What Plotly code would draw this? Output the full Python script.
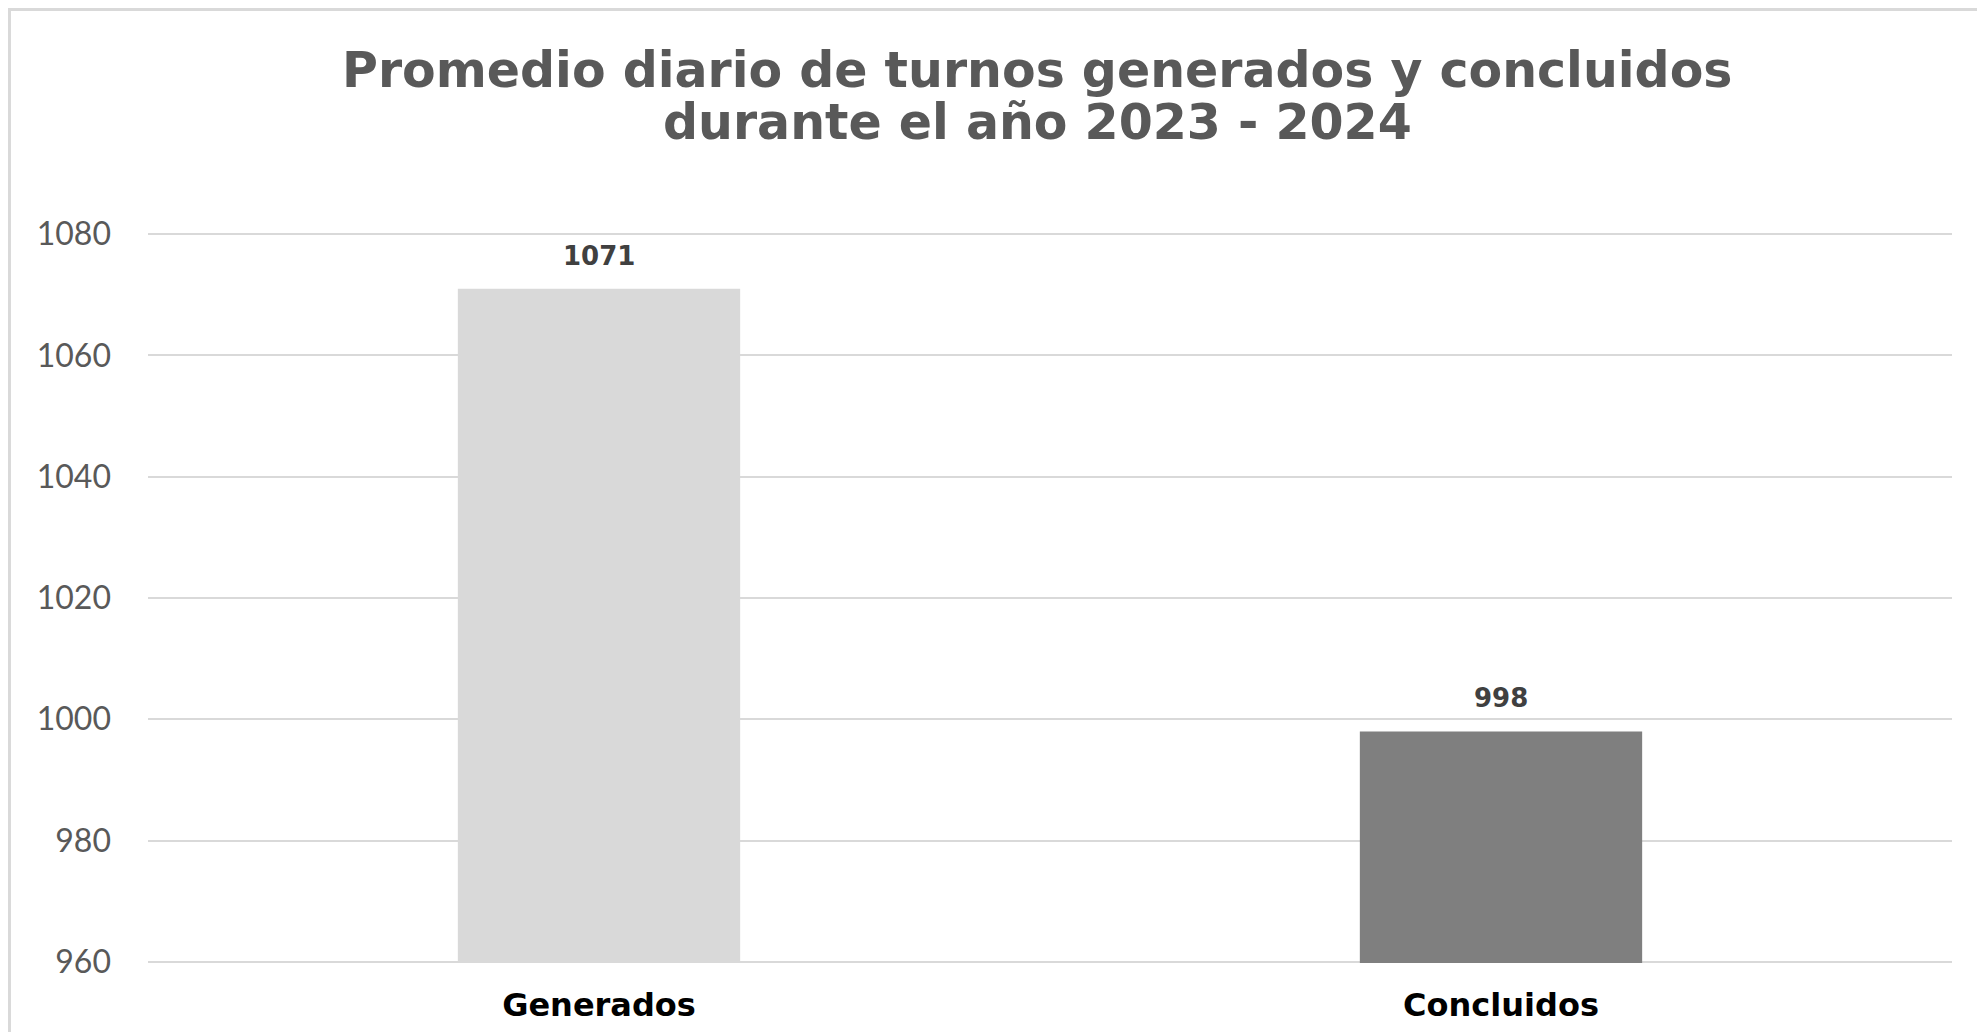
import plotly.graph_objects as go

categories = ["Generados", "Concluidos"]
values = [1071, 998]
bar_colors = ["#d9d9d9", "#7f7f7f"]
y_ticks = [960, 980, 1000, 1020, 1040, 1060, 1080]
title_lines = ["Promedio diario de turnos generados y concluidos",
               "durante el año 2023 - 2024"]

fig = go.Figure(go.Bar(
    x=categories,
    y=values,
    marker=dict(color=bar_colors, line=dict(width=0)),
    width=0.313,
    hoverinfo="x+y",
))

# data labels above each bar
for cat, val in zip(categories, values):
    fig.add_annotation(
        x=cat, y=val, text=f"<b>{val}</b>", showarrow=False,
        yanchor="bottom", yshift=16,
        font=dict(family="DejaVu Sans", size=26, color="#404040"),
    )

# two-line title, spaced like the original
for line, ypos in zip(title_lines, [1.223, 1.151]):
    fig.add_annotation(
        x=0.4928, y=ypos, xref="paper", yref="paper", text=f"<b>{line}</b>",
        showarrow=False, yanchor="middle",
        font=dict(family="DejaVu Sans", size=49, color="#595959"),
    )

# chart border (only top/left visible in the crop)
fig.add_shape(
    type="rect", xref="paper", yref="paper",
    x0=-0.0768, x1=1.05, y0=-0.2, y1=1.306,
    line=dict(color="#d9d9d9", width=3), layer="below",
)

# page body adds an 8px offset, so margins are trimmed by 8
fig.update_layout(
    width=1985, height=1032,
    paper_bgcolor="white", plot_bgcolor="white",
    margin=dict(l=140, r=41, t=225, b=77, autoexpand=False),
    xaxis=dict(
        showgrid=False, zeroline=False, showline=False, automargin=False,
        tickfont=dict(family="DejaVu Sans", size=32, color="#000000", weight="bold"),
        ticklabelstandoff=20,
    ),
    yaxis=dict(
        range=[959.8, 1080.2], tickvals=y_ticks,
        showgrid=True, gridcolor="#d9d9d9", gridwidth=2,
        zeroline=False, showline=False, automargin=False,
        tickfont=dict(family="Lato", size=32, color="#595959"),
        ticklabelstandoff=36,
    ),
    showlegend=False,
)

fig.write_html("out.html")
